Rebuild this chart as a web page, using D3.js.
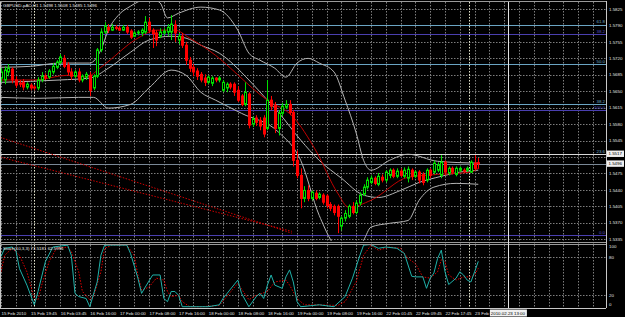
<!DOCTYPE html>
<html>
<head>
<meta charset="utf-8">
<script src="https://cdn.jsdelivr.net/npm/d3@7"></script>
<style>
body { margin: 0; background: #000; }
svg { display: block; }
text { font-family: "Liberation Sans", Arial, sans-serif; }
</style>
</head>
<body>
<svg id="chart" width="625" height="317"></svg>
<script>
var chartTitle = "GBPUSD-pAC,H1  1.5498 1.5508 1.5485 1.5496";
var stochTitle = "Stoch(10,3,3) 73.5181 62.5996";

// hourly candles, each row is [open, high, low, close]
var candles = [
  [1.5678,1.5699,1.5669,1.5691],[1.5674,1.5703,1.5665,1.5695],[1.5691,1.5708,1.5682,1.5699],[1.5697,1.5701,1.5667,1.5674],
  [1.5674,1.5682,1.5657,1.5663],[1.5667,1.5674,1.5659,1.5665],[1.5669,1.5676,1.5652,1.5659],[1.5659,1.5669,1.5654,1.5665],
  [1.5663,1.5667,1.5652,1.5657],[1.5659,1.5663,1.5652,1.5657],[1.5657,1.5680,1.5652,1.5674],[1.5674,1.5691,1.5669,1.5682],
  [1.5682,1.5688,1.5674,1.5678],[1.5680,1.5697,1.5676,1.5693],[1.5691,1.5710,1.5686,1.5703],[1.5701,1.5716,1.5697,1.5712],
  [1.5712,1.5729,1.5708,1.5723],[1.5720,1.5727,1.5699,1.5703],[1.5706,1.5712,1.5684,1.5691],[1.5691,1.5699,1.5674,1.5682],
  [1.5682,1.5695,1.5678,1.5691],[1.5691,1.5699,1.5669,1.5674],[1.5674,1.5686,1.5669,1.5682],[1.5680,1.5691,1.5674,1.5686],
  [1.5684,1.5691,1.5640,1.5652],[1.5657,1.5686,1.5652,1.5682],[1.5682,1.5742,1.5678,1.5738],[1.5738,1.5784,1.5733,1.5776],
  [1.5776,1.5797,1.5772,1.5789],[1.5786,1.5793,1.5774,1.5780],[1.5780,1.5793,1.5778,1.5786],[1.5786,1.5791,1.5780,1.5784],
  [1.5784,1.5789,1.5778,1.5780],[1.5780,1.5791,1.5778,1.5786],[1.5786,1.5791,1.5772,1.5776],[1.5778,1.5782,1.5761,1.5765],
  [1.5767,1.5778,1.5765,1.5774],[1.5774,1.5780,1.5769,1.5776],[1.5774,1.5784,1.5767,1.5780],[1.5776,1.5810,1.5772,1.5797],
  [1.5797,1.5806,1.5774,1.5780],[1.5780,1.5784,1.5742,1.5772],[1.5774,1.5780,1.5746,1.5759],[1.5767,1.5784,1.5763,1.5776],
  [1.5774,1.5784,1.5769,1.5778],[1.5776,1.5793,1.5767,1.5786],[1.5776,1.5812,1.5759,1.5793],[1.5791,1.5801,1.5755,1.5774],
  [1.5759,1.5774,1.5750,1.5767],[1.5767,1.5774,1.5742,1.5748],[1.5748,1.5755,1.5706,1.5716],[1.5716,1.5723,1.5691,1.5699],
  [1.5701,1.5708,1.5682,1.5691],[1.5693,1.5699,1.5674,1.5682],[1.5686,1.5691,1.5669,1.5674],[1.5678,1.5686,1.5661,1.5669],
  [1.5669,1.5684,1.5665,1.5680],[1.5667,1.5682,1.5661,1.5678],[1.5678,1.5680,1.5669,1.5674],[1.5674,1.5682,1.5669,1.5678],
  [1.5652,1.5674,1.5648,1.5669],[1.5657,1.5669,1.5648,1.5665],[1.5665,1.5669,1.5654,1.5659],[1.5665,1.5669,1.5640,1.5648],
  [1.5652,1.5661,1.5627,1.5631],[1.5640,1.5644,1.5618,1.5622],[1.5622,1.5669,1.5618,1.5648],[1.5644,1.5648,1.5571,1.5578],
  [1.5580,1.5597,1.5574,1.5591],[1.5593,1.5599,1.5576,1.5584],[1.5588,1.5595,1.5567,1.5576],[1.5593,1.5599,1.5552,1.5559],
  [1.5571,1.5674,1.5567,1.5631],[1.5631,1.5640,1.5610,1.5618],[1.5620,1.5627,1.5561,1.5571],[1.5571,1.5610,1.5556,1.5603],
  [1.5603,1.5625,1.5597,1.5618],[1.5616,1.5631,1.5612,1.5622],[1.5622,1.5631,1.5599,1.5605],[1.5605,1.5610,1.5490,1.5503],
  [1.5503,1.5524,1.5465,1.5471],[1.5471,1.5486,1.5401,1.5422],[1.5422,1.5448,1.5414,1.5439],[1.5439,1.5450,1.5416,1.5422],
  [1.5422,1.5439,1.5418,1.5435],[1.5433,1.5439,1.5418,1.5422],[1.5424,1.5435,1.5420,1.5431],[1.5429,1.5433,1.5409,1.5414],
  [1.5427,1.5431,1.5401,1.5407],[1.5409,1.5414,1.5395,1.5401],[1.5405,1.5409,1.5386,1.5392],[1.5405,1.5409,1.5348,1.5384],
  [1.5363,1.5384,1.5354,1.5380],[1.5380,1.5397,1.5373,1.5390],[1.5384,1.5409,1.5380,1.5405],[1.5405,1.5414,1.5388,1.5392],
  [1.5392,1.5418,1.5388,1.5412],[1.5412,1.5435,1.5407,1.5429],[1.5431,1.5452,1.5427,1.5446],[1.5446,1.5467,1.5441,1.5461],
  [1.5456,1.5471,1.5452,1.5465],[1.5465,1.5469,1.5450,1.5454],[1.5452,1.5476,1.5448,1.5469],[1.5467,1.5473,1.5456,1.5461],
  [1.5461,1.5482,1.5456,1.5478],[1.5471,1.5486,1.5465,1.5482],[1.5482,1.5486,1.5465,1.5469],[1.5469,1.5486,1.5465,1.5480],
  [1.5480,1.5486,1.5467,1.5471],[1.5469,1.5488,1.5465,1.5482],[1.5465,1.5490,1.5456,1.5484],[1.5482,1.5486,1.5461,1.5469],
  [1.5469,1.5482,1.5465,1.5478],[1.5478,1.5482,1.5454,1.5461],[1.5473,1.5478,1.5450,1.5456],[1.5461,1.5486,1.5456,1.5482],
  [1.5482,1.5486,1.5465,1.5471],[1.5478,1.5503,1.5473,1.5497],[1.5482,1.5499,1.5478,1.5493],[1.5471,1.5514,1.5465,1.5499],
  [1.5499,1.5503,1.5471,1.5478],[1.5476,1.5490,1.5471,1.5486],[1.5486,1.5490,1.5473,1.5478],[1.5473,1.5490,1.5469,1.5486],
  [1.5482,1.5490,1.5478,1.5486],[1.5482,1.5486,1.5476,1.5480],[1.5482,1.5490,1.5478,1.5486],[1.5478,1.5503,1.5476,1.5499],
  [1.5497,1.5514,1.5482,1.5486],[1.5498,1.5508,1.5485,1.5496]
];

// Bollinger bands and moving average, [bar, price]
var upperBand = [[0,1.5701],[8,1.5703],[16,1.5710],[24,1.5710],[27,1.5738],[29,1.5780],[32,1.5814],[35,1.5831],[37,1.5840],[40,1.5848],
  [43,1.5838],[45,1.5806],[48,1.5816],[54,1.5829],[59,1.5823],[64,1.5780],[67,1.5731],[70,1.5716],[74,1.5699],[77,1.5680],[80,1.5710],
  [83,1.5720],[86,1.5710],[90,1.5691],[93,1.5631],[96,1.5561],[98,1.5503],[100,1.5482],[105,1.5503],[110,1.5516],[118,1.5501],[129,1.5497]];
var middleBand = [[0,1.5669],[16,1.5674],[24,1.5678],[29,1.5699],[35,1.5733],[40,1.5759],[46,1.5767],[50,1.5763],[54,1.5748],[59,1.5731],
  [67,1.5674],[72,1.5631],[75,1.5605],[81,1.5546],[86,1.5503],[92,1.5465],[98,1.5429],[102,1.5424],[108,1.5439],[113,1.5456],[119,1.5469],
  [124,1.5478],[129,1.5482]];
var lowerBand = [[0,1.5637],[10,1.5635],[21,1.5637],[25,1.5637],[29,1.5614],[35,1.5622],[40,1.5657],[46,1.5695],[50,1.5684],[54,1.5648],
  [58,1.5631],[65,1.5603],[75,1.5563],[81,1.5503],[86,1.5386],[92,1.5312],[96,1.5312],[98,1.5333],[100,1.5361],[105,1.5369],[110,1.5375],
  [113,1.5418],[117,1.5446],[123,1.5454],[129,1.5452]];
var maLine = [[0,1.5674],[9,1.5674],[18,1.5684],[23,1.5680],[27,1.5701],[37,1.5763],[42,1.5780],[47,1.5780],[51,1.5763],[56,1.5738],
  [72,1.5631],[79,1.5595],[85,1.5525],[91,1.5433],[94,1.5403],[100,1.5418],[110,1.5467],[118,1.5473],[127,1.5478],[129,1.5486]];

// stochastic main and signal, [bar, value]
var stochMain = [[0,81],[1,94],[3,96],[4,91],[5,62],[7,36],[9,5],[10,26],[12,73],[14,96],[18,99],[19,83],[20,23],[21,18],[23,15],[24,2],
  [26,41],[27,83],[28,99],[34,99],[35,86],[37,47],[38,23],[39,33],[41,52],[43,52],[44,15],[45,10],[46,26],[47,26],[48,20],[49,2],[56,2],
  [59,5],[60,15],[64,44],[65,23],[67,2],[69,18],[70,23],[71,15],[72,36],[73,52],[74,36],[76,31],[77,49],[78,60],[79,41],[80,10],[81,2],
  [86,5],[90,2],[93,18],[95,47],[97,83],[98,99],[100,100],[102,94],[104,96],[107,94],[109,86],[111,50],[112,49],[114,49],[115,31],[116,47],
  [117,55],[118,78],[119,91],[120,57],[121,37],[123,47],[124,57],[125,52],[126,44],[127,41],[128,57],[129,73.5]];
var stochSignal = [[0,57],[1,83],[3,94],[5,83],[7,57],[9,15],[10,13],[11,36],[13,73],[15,94],[18,96],[19,89],[21,57],[22,26],[24,13],[25,18],
  [27,57],[28,94],[30,99],[34,99],[36,83],[37,52],[38,28],[40,33],[42,47],[44,44],[45,26],[46,18],[48,20],[49,10],[51,2],[54,2],[59,4],
  [61,18],[64,39],[65,30],[67,13],[69,20],[72,26],[74,41],[77,44],[78,36],[80,15],[82,5],[86,5],[91,4],[93,10],[96,41],[98,83],[100,99],
  [102,91],[105,96],[108,94],[110,78],[112,70],[114,49],[116,47],[118,57],[119,76],[120,73],[121,52],[123,44],[125,49],[127,49],[128,52],[129,62.6]];

// fibonacci / horizontal levels
var fibPrices = [1.5792, 1.5772, 1.5708, 1.5623, 1.5610, 1.5517, 1.5344];
var fibLabels = ["61.8", "38.2", "50.0", "38.2", "100.0", "23.6", "0.0"];
var fibKinds = ["light", "dark", "light", "light", "dark", "white", "dark"];
var bidPrice = 1.5496;
var boxPrices = [1.5517, 1.5496];

// dotted trend lines, [[bar, price], [bar, price]]
var trendLines = [[[-0.2, 1.5552], [78.6, 1.5348]], [[-0.2, 1.5510], [78.6, 1.5352]]];
var markerBars = [9, 126.5];
var cursorBar = 137;
var cursorLabel = "2010.02.23 13:00";

var priceTicks = [1.5825,1.5790,1.5755,1.5720,1.5685,1.5650,1.5615,1.5580,1.5545,1.5510,1.5475,1.5440,1.5405,1.5370,1.5335];
// the last label is cut off by the cursor box in the terminal, only its start shows
var timeLabels = ["15 Feb 2010","15 Feb 19:45","16 Feb 03:45","16 Feb 16:00","17 Feb 00:00","17 Feb 08:00","17 Feb 16:00",
  "18 Feb 00:00","18 Feb 08:00","18 Feb 16:00","19 Feb 00:00","19 Feb 08:00","19 Feb 16:00","22 Feb 01:45","22 Feb 09:45",
  "22 Feb 17:45","23 Feb 0"];
var stochTicks = [100, 80, 20, 0];
var stochLevels = [80, 20];

var svg = d3.select("#chart");
var plotRight = 606;
var fontSize = 4.4;

var x = d3.scaleLinear().domain([0, 137]).range([1, 1 + 3.7 * 137]); //bar index to pixel
var y = d3.scaleLinear().domain([1.5335, 1.5825]).range([239.3, 9]); //price to pixel
var ys = d3.scaleLinear().domain([0, 100]).range([308, 244.5]); //stochastic panel

svg.append("rect").attr("width", 625).attr("height", 317).attr("fill", "#000");

var defs = svg.append("defs");
defs.append("clipPath").attr("id", "mainClip").append("rect")
  .attr("x", 1).attr("y", 2).attr("width", plotRight - 1).attr("height", 239);
defs.append("clipPath").attr("id", "stochClip").append("rect")
  .attr("x", 1).attr("y", 244).attr("width", plotRight - 1).attr("height", 64);

// grid
var gridColor = "#7d7d7d";
var gridBars = d3.range(0, 164, 4);
svg.append("g").selectAll("line").data(gridBars).enter().append("line")
  .attr("x1", d => Math.round(x(d)) + 0.5).attr("x2", d => Math.round(x(d)) + 0.5)
  .attr("y1", 2).attr("y2", 308)
  .attr("stroke", gridColor).attr("stroke-dasharray", "1.5,1.5");
svg.append("g").selectAll("line").data(priceTicks).enter().append("line")
  .attr("x1", 1).attr("x2", plotRight)
  .attr("y1", d => Math.round(y(d)) + 0.5).attr("y2", d => Math.round(y(d)) + 0.5)
  .attr("stroke", gridColor).attr("stroke-dasharray", "1.5,1.5");
svg.append("g").selectAll("line").data(stochLevels).enter().append("line")
  .attr("x1", 1).attr("x2", plotRight)
  .attr("y1", d => Math.round(ys(d)) + 0.5).attr("y2", d => Math.round(ys(d)) + 0.5)
  .attr("stroke", gridColor).attr("stroke-dasharray", "1.5,1.5");

// highlighted dotted verticals
svg.append("g").selectAll("line").data(markerBars).enter().append("line")
  .attr("x1", d => Math.round(x(d)) + 0.5).attr("x2", d => Math.round(x(d)) + 0.5)
  .attr("y1", 2).attr("y2", 308)
  .attr("stroke", "#e8e8d0").attr("stroke-dasharray", "1.5,1.5");

var mainG = svg.append("g").attr("clip-path", "url(#mainClip)");

// horizontal levels
var levelColor = { light: "#6aa5c4", dark: "#4a3fb0", white: "#d8d8d8" };
var labelColor = { light: "#6aa5c4", dark: "#5a50c0", white: "#6aa5c4" };
mainG.append("g").selectAll("line").data(fibPrices).enter().append("line")
  .attr("x1", 1).attr("x2", plotRight)
  .attr("y1", d => Math.round(y(d)) + 0.5).attr("y2", d => Math.round(y(d)) + 0.5)
  .attr("stroke", (d, i) => levelColor[fibKinds[i]]);
mainG.append("line") //bid line
  .attr("x1", 1).attr("x2", plotRight)
  .attr("y1", Math.round(y(bidPrice)) + 0.5).attr("y2", Math.round(y(bidPrice)) + 0.5)
  .attr("stroke", "#7a8896");
svg.append("g").selectAll("text").data(fibPrices).enter().append("text")
  .attr("x", plotRight - 1).attr("y", d => y(d) - 1.2)
  .attr("text-anchor", "end").attr("font-size", fontSize)
  .attr("fill", (d, i) => labelColor[fibKinds[i]])
  .text((d, i) => fibLabels[i]);

// trend lines
mainG.append("g").selectAll("line").data(trendLines).enter().append("line")
  .attr("x1", d => x(d[0][0])).attr("y1", d => y(d[0][1]))
  .attr("x2", d => x(d[1][0])).attr("y2", d => y(d[1][1]))
  .attr("stroke", "#d00000").attr("stroke-dasharray", "1.5,1.5");

// bands and MA
var priceLine = d3.line().x(d => x(d[0])).y(d => y(d[1])).curve(d3.curveMonotoneX);
[upperBand, middleBand, lowerBand].forEach(function (band) {
  mainG.append("path").attr("d", priceLine(band))
    .attr("fill", "none").attr("stroke", "#b4b4b4").attr("stroke-width", 1);
});
mainG.append("path").attr("d", priceLine(maLine))
  .attr("fill", "none").attr("stroke", "#c00000").attr("stroke-width", 1);

// candles
var bullColor = "#00e000";
var bearColor = "#ff0000";
var candleG = mainG.append("g");
candleG.selectAll("line").data(candles).enter().append("line")
  .attr("x1", (d, i) => Math.round(x(i)) + 0.5).attr("x2", (d, i) => Math.round(x(i)) + 0.5)
  .attr("y1", d => y(d[1])).attr("y2", d => y(d[2]))
  .attr("stroke", d => d[3] >= d[0] ? bullColor : bearColor);
candleG.selectAll("rect").data(candles).enter().append("rect")
  .attr("x", (d, i) => Math.round(x(i)) - 0.5).attr("width", 2)
  .attr("y", d => y(Math.max(d[0], d[3])))
  .attr("height", d => Math.max(0.8, Math.abs(y(d[0]) - y(d[3]))))
  .attr("fill", d => d[3] >= d[0] ? "#000" : bearColor)
  .attr("stroke", d => d[3] >= d[0] ? bullColor : bearColor)
  .attr("stroke-width", 1);

// stochastic
var stochG = svg.append("g").attr("clip-path", "url(#stochClip)");
var stochLine = d3.line().x(d => x(d[0])).y(d => ys(d[1]));
stochG.append("path").attr("d", stochLine(stochSignal))
  .attr("fill", "none").attr("stroke", "#e00000").attr("stroke-dasharray", "1.5,1.5");
stochG.append("path").attr("d", stochLine(stochMain))
  .attr("fill", "none").attr("stroke", "#20b2aa").attr("stroke-width", 1);

// frame
svg.append("line").attr("x1", 0.5).attr("x2", 0.5).attr("y1", 1).attr("y2", 308).attr("stroke", "#c8c8c8");
svg.append("line").attr("x1", 0).attr("x2", plotRight).attr("y1", 1.5).attr("y2", 1.5).attr("stroke", "#9a9a9a");
svg.append("line").attr("x1", plotRight + 0.5).attr("x2", plotRight + 0.5).attr("y1", 1).attr("y2", 308).attr("stroke", "#c8c8c8");
svg.append("line").attr("x1", 0).attr("x2", plotRight).attr("y1", 242.5).attr("y2", 242.5).attr("stroke", "#9a9a9a");
svg.append("line").attr("x1", 0).attr("x2", plotRight).attr("y1", 244.5).attr("y2", 244.5).attr("stroke", "#9a9a9a");
svg.append("line").attr("x1", 0).attr("x2", plotRight).attr("y1", 308.5).attr("y2", 308.5).attr("stroke", "#c8c8c8");

// cursor line
svg.append("line")
  .attr("x1", Math.round(x(cursorBar)) + 0.5).attr("x2", Math.round(x(cursorBar)) + 0.5)
  .attr("y1", 2).attr("y2", 308).attr("stroke", "#e0e0e0");

// right price axis, labels under the price boxes are hidden as in the terminal
var freeTicks = priceTicks.filter(p => boxPrices.every(b => Math.abs(y(p) - y(b)) > 6));
svg.append("g").selectAll("text").data(freeTicks).enter().append("text")
  .attr("x", 609).attr("y", d => y(d) + 1.6)
  .attr("font-size", fontSize).attr("fill", "#e0e0e0")
  .text(d => d.toFixed(4));
var boxG = svg.append("g").selectAll("g").data(boxPrices).enter().append("g");
boxG.append("rect").attr("x", 607).attr("y", d => y(d) - 3.2).attr("width", 17).attr("height", 6.4).attr("fill", "#f0f0f0");
boxG.append("text").attr("x", 608.5).attr("y", d => y(d) + 1.6)
  .attr("font-size", fontSize).attr("fill", "#000").text(d => d.toFixed(4));

svg.append("g").selectAll("text").data(stochTicks).enter().append("text")
  .attr("x", 609).attr("y", d => Math.min(306, Math.max(248, ys(d) + 1.6)))
  .attr("font-size", fontSize).attr("fill", "#e0e0e0")
  .text(d => d);

// time axis
svg.append("g").selectAll("text").data(timeLabels).enter().append("text")
  .attr("x", (d, i) => x(i * 8) + 0.5).attr("y", 314.5)
  .attr("font-size", fontSize).attr("fill", "#e0e0e0")
  .text(d => d);
svg.append("rect").attr("x", x(cursorBar) - 18).attr("y", 309.5).attr("width", 37).attr("height", 7).attr("fill", "#f0f0f0");
svg.append("text").attr("x", x(cursorBar)).attr("y", 314.5).attr("text-anchor", "middle")
  .attr("font-size", fontSize).attr("fill", "#000").text(cursorLabel);

// titles
svg.append("text").attr("x", 3).attr("y", 7).attr("font-size", fontSize).attr("fill", "#e8e8e8").text(chartTitle);
svg.append("text").attr("x", 3).attr("y", 250).attr("font-size", fontSize).attr("fill", "#e8e8e8").text(stochTitle);
</script>
</body>
</html>
